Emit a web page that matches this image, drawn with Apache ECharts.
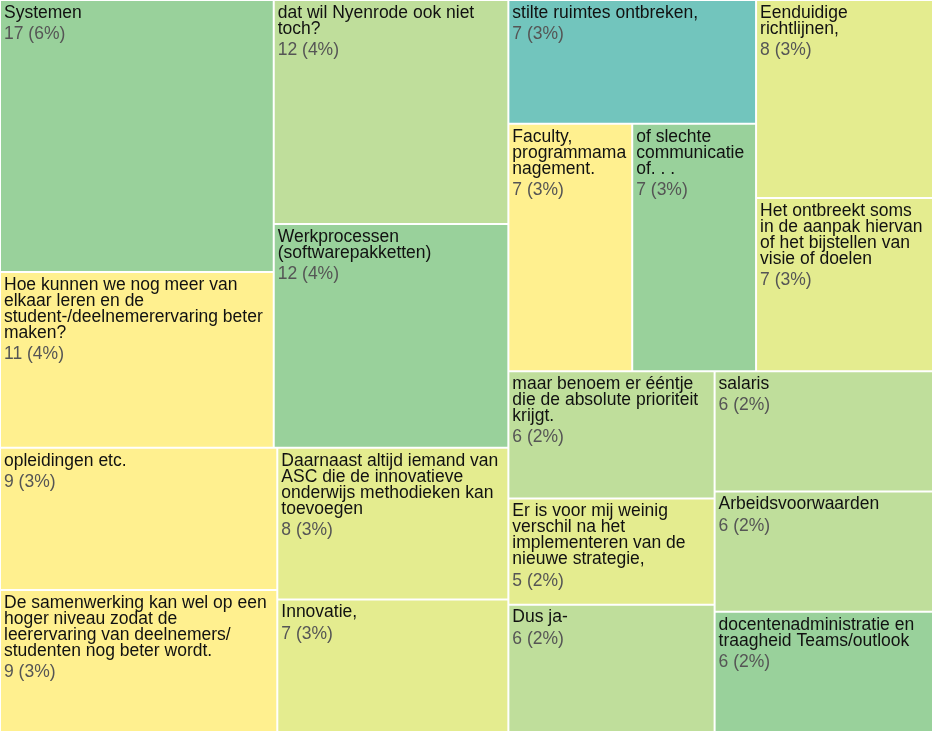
<!DOCTYPE html>
<html lang="nl">
<head>
    <meta charset="UTF-8">
    <meta name="viewport" content="width=device-width, initial-scale=1.0">
    <title>Treemap</title>
    <script src="https://cdn.jsdelivr.net/npm/echarts@6/dist/echarts.min.js"></script>
    <style>
        html, body { margin: 0; padding: 0; background: #fff; }
        #chart { width: 933px; height: 732px; }
    </style>
</head>
<body>
    <div id="chart"></div>

    <script>
        // answers
        var names = [
            'Systemen',
            'Hoe kunnen we nog meer van elkaar leren en de student-/deelnemerervaring beter maken?',
            'dat wil Nyenrode ook niet toch?',
            'Werkprocessen (softwarepakketten)',
            'opleidingen etc.',
            'De samenwerking kan wel op een hoger niveau zodat de leerervaring van deelnemers/ studenten nog beter wordt.',
            'Daarnaast altijd iemand van ASC die de innovatieve onderwijs methodieken kan toevoegen',
            'Innovatie,',
            'stilte ruimtes ontbreken,',
            'Faculty, programmamanagement.',
            'of slechte communicatie of. . .',
            'Eenduidige richtlijnen,',
            'Het ontbreekt soms in de aanpak hiervan of het bijstellen van visie of doelen',
            'maar benoem er ééntje die de absolute prioriteit krijgt.',
            'Er is voor mij weinig verschil na het implementeren van de nieuwe strategie,',
            'Dus ja-',
            'salaris',
            'Arbeidsvoorwaarden',
            'docentenadministratie en traagheid Teams/outlook'
        ];
        var counts = [17, 11, 12, 12, 9, 9, 8, 7, 7, 7, 7, 8, 7, 6, 5, 6, 6, 6, 6];
        var shares = ['6%', '4%', '4%', '4%', '3%', '3%', '3%', '3%', '3%', '3%', '3%',
                      '3%', '3%', '2%', '2%', '2%', '2%', '2%', '2%'];

        // how the tiles are grouped (indices into the arrays above)
        var groups = [
            [[[0, 1], [2, 3]], [[4, 5], [6, 7]]],
            [[[8, [9, 10]], [11, 12]], [[13, 14, 15], [16, 17, 18]]]
        ];

        var green = '#99d19b', lightGreen = '#bfde9b', lime = '#e4ec8f',
            yellow = '#fff08f', teal = '#72c5bd';
        var tileColors = [green, yellow, lightGreen, green, yellow, yellow, lime, lime,
                          teal, yellow, green, lime, lime, lightGreen, lime, lightGreen,
                          lightGreen, lightGreen, green];

        var font = 'Arial, "Liberation Sans", sans-serif';
        var fontSize = 17.5;
        var pad = [4, 3, 0, 3];
        var border = 1;

        // rich text + overflow:'break' drops the line break, so wrap the names ourselves
        var measureCtx = document.createElement('canvas').getContext('2d');
        measureCtx.font = fontSize + 'px ' + font;
        function textWidth(s) { return measureCtx.measureText(s).width; }

        function wrapWords(text, maxWidth) {
            var words = text.split(' ');
            var lines = [];
            var line = '';
            words.forEach(function (w) {
                var test = line ? line + ' ' + w : w;
                if (!line || textWidth(test) <= maxWidth) {
                    line = test;
                } else {
                    lines.push(line);
                    line = w;
                }
                while (line.length > 1 && textWidth(line) > maxWidth) {
                    var k = line.length - 1;
                    while (k > 1 && textWidth(line.slice(0, k)) > maxWidth) k--;
                    lines.push(line.slice(0, k));
                    line = line.slice(k);
                }
            });
            if (line) lines.push(line);
            return lines;
        }

        function buildNode(g) {
            if (typeof g === 'number') {
                return {
                    name: names[g],
                    value: counts[g],
                    share: shares[g],
                    itemStyle: { color: tileColors[g], borderColor: '#fff', borderWidth: border }
                };
            }
            return { name: '', children: g.map(buildNode) };
        }

        var mychart = echarts.init(document.getElementById('chart'));

        function tileWidth(dataIndex) {
            try {
                var layout = mychart.getModel().getSeriesByIndex(0).getData().getItemLayout(dataIndex);
                if (layout && layout.width) return layout.width - 2 * border - pad[1] - pad[3];
            } catch (e) {}
            return 200;
        }

        var option = {
            animation: false,
            backgroundColor: '#fff',
            series: [{
                type: 'treemap',
                left: 0,
                top: 0,
                right: 0,
                bottom: 0,
                roam: false,
                nodeClick: false,
                sort: false,
                squareRatio: 1,
                visibleMin: 0,
                breadcrumb: { show: false },
                itemStyle: { borderWidth: 0, gapWidth: 0, borderColor: '#fff' },
                upperLabel: { show: false },
                label: {
                    show: true,
                    position: 'insideTopLeft',
                    distance: 0,
                    padding: pad,
                    overflow: 'none',
                    fontFamily: font,
                    fontSize: fontSize,
                    color: '#111',
                    formatter: function (p) {
                        var share = p.data && p.data.share ? p.data.share : '';
                        var lines = wrapWords(p.name, tileWidth(p.dataIndex));
                        return '{n|' + lines.join('\n') + '}\n{v|' + p.value + ' (' + share + ')}';
                    },
                    rich: {
                        n: { fontFamily: font, fontSize: fontSize, lineHeight: 16, color: '#111' },
                        v: { fontFamily: font, fontSize: fontSize, lineHeight: 27, color: '#555' }
                    }
                },
                data: groups.map(buildNode)
            }]
        };
        mychart.setOption(option);
    </script>
</body>
</html>
